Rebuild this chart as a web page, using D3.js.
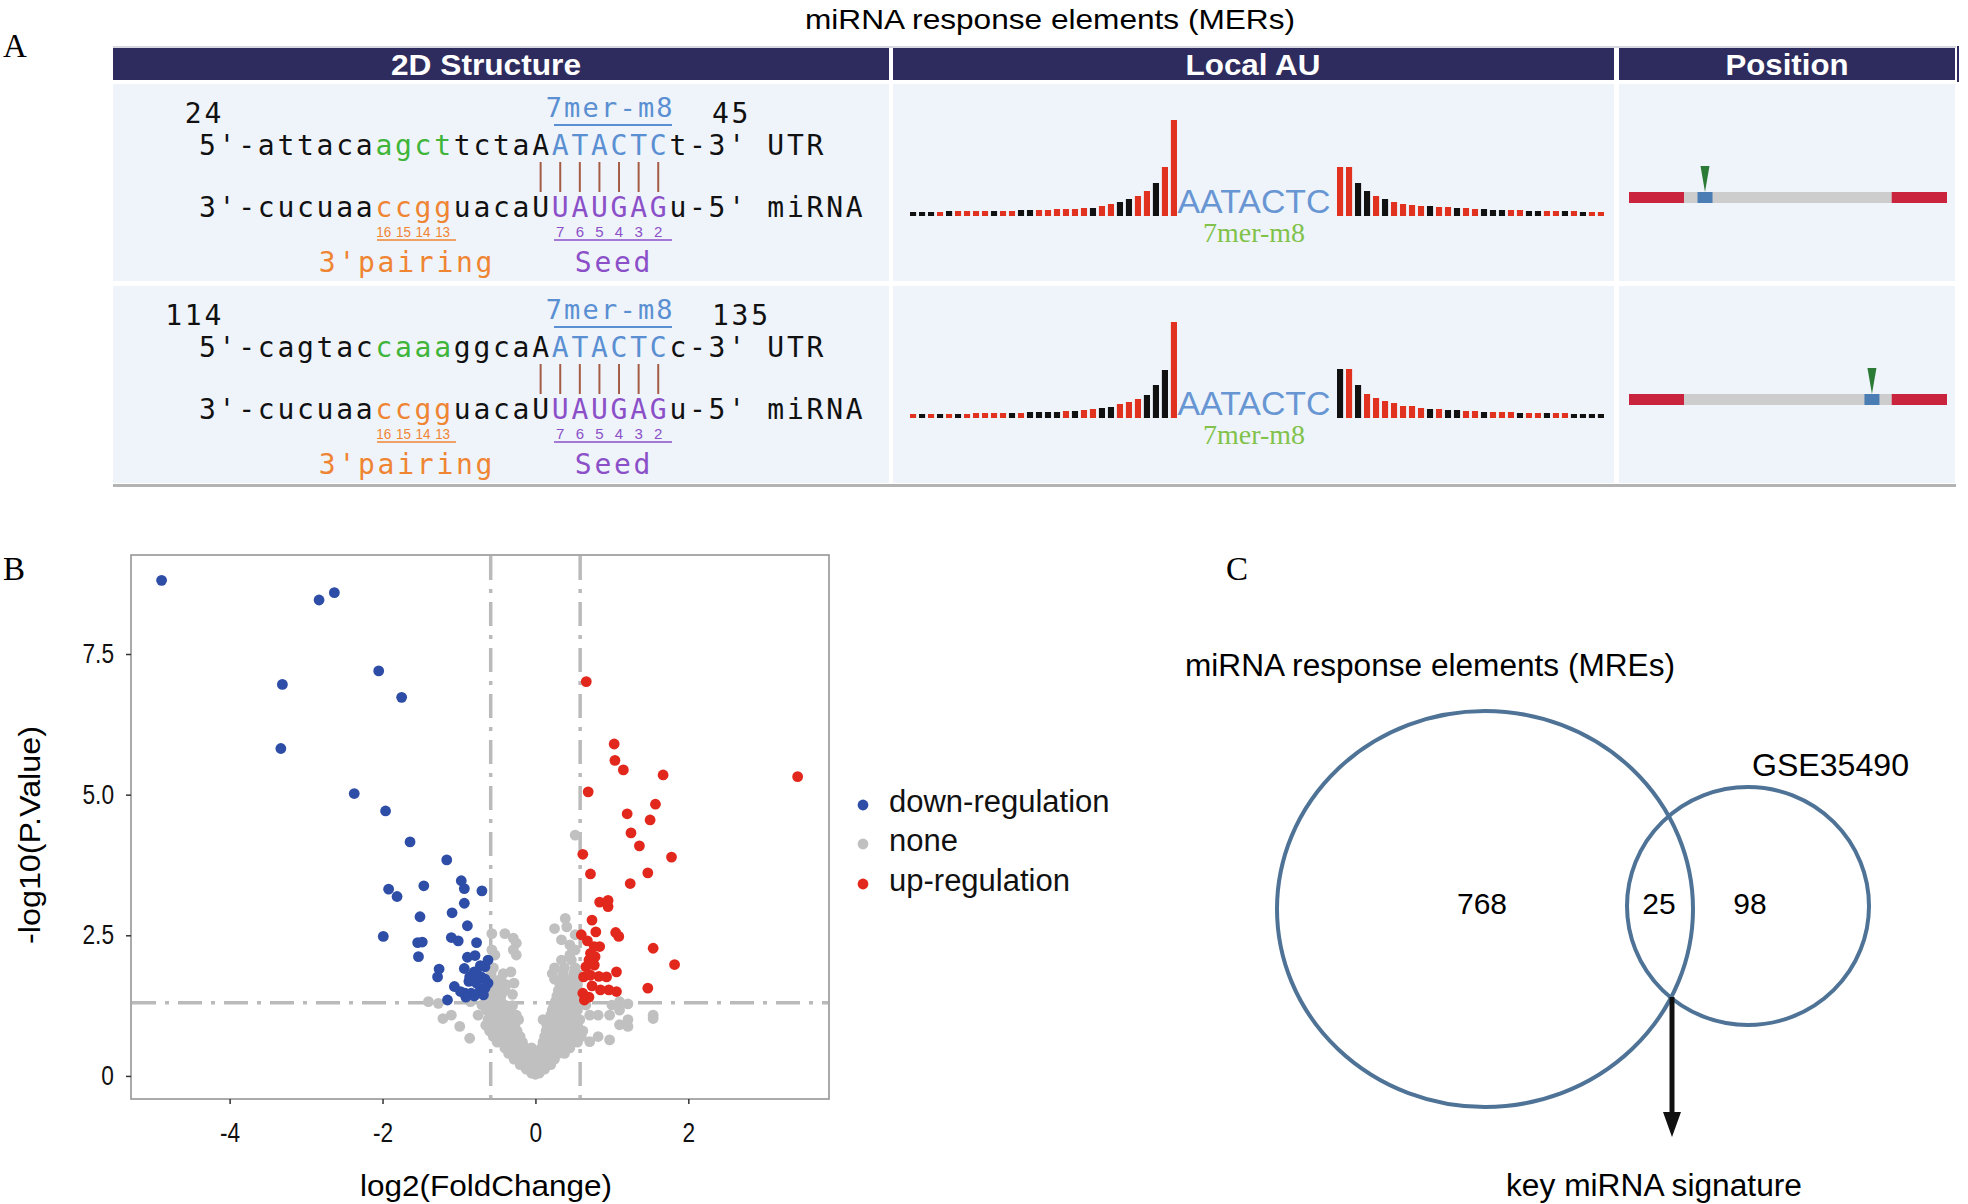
<!DOCTYPE html>
<html><head><meta charset="utf-8">
<script src="https://cdn.jsdelivr.net/npm/d3@7"></script>
<style>body{margin:0;background:#fff}</style>
</head><body>
<svg id="c" width="1968" height="1204"></svg>
<script>
// ---------------- DATA ----------------
const titleA = "miRNA response elements (MERs)";
const headerLabels = ["2D Structure", "Local AU", "Position"];
const siteStart = [24, 114];
const siteEnd = [45, 135];
const utrSeqs = ["5'-attacaagcttctaAATACTCt-3'", "5'-cagtaccaaaggcaAATACTCc-3'"];
const utrCode = "kkkkkkkkkggggkkkkkbbbbbbkkkk";
const mirSeq = "3'-cucuaaccgguacaUUAUGAGu-5'";
const mirCode = "kkkkkkkkkookkkkkkkppppppkkkk";
const siteType = "7mer-m8";
const motif = "AATACTC";
const pairIdx = [17, 18, 19, 20, 21, 22, 23];
const pairNums = ["16", "15", "14", "13"];
const seedNums = ["7", "6", "5", "4", "3", "2"];

const auLeft = [
  [.04,.04,.04,.04,.05,.05,.05,.05,.05,.05,.05,.05,.06,.06,.06,.06,.07,.07,.07,.08,.08,.10,.12,.14,.17,.20,.25,.33,.49,.96],
  [.04,.04,.04,.04,.04,.04,.04,.05,.05,.05,.05,.05,.05,.06,.06,.06,.06,.07,.07,.08,.09,.10,.11,.14,.16,.19,.23,.33,.48,.96]
];
const auLeftCol = ["kkkrkrrrrkrrkkrrrrrrkrrkkrrkrr", "rkrkrkrrrrrkrkkkkrkrrkkrrrkkkr"];
const auRight = [
  [.49,.49,.33,.25,.20,.17,.14,.12,.11,.10,.10,.09,.09,.08,.08,.07,.07,.06,.06,.06,.06,.05,.05,.05,.05,.05,.05,.04,.04,.04],
  [.49,.49,.33,.24,.20,.17,.15,.12,.12,.10,.09,.09,.08,.08,.07,.07,.06,.06,.06,.06,.05,.05,.05,.05,.05,.05,.04,.04,.04,.04]
];
const auRightCol = ["rrkkrkrrrrkrrkrrkkkrrkkrrkrkrr", "krkrrrrrrrkrkkrrkrrrkrrkrrkkkk"];

const posSegments = [[0, 0.173, "utr5"], [0.173, 0.826, "mid"], [0.826, 1, "utr3"]];
const sitePos = [0.239, 0.764];

const downPts = [[-4.89,8.81],[-2.83,8.46],[-2.63,8.59],[-2.05,7.20],[-3.31,6.96],[-1.75,6.73],[-3.33,5.82],[-2.37,5.02],[-1.96,4.71],[-1.64,4.16],
[-1.16,3.84],[-1.92,3.32],[-1.81,3.19],[-1.46,3.38],[-0.97,3.47],[-0.93,3.33],[-0.70,3.29],[-0.93,3.07],[-1.09,2.90],[-1.51,2.83],[-0.89,2.67],[-1.99,2.48],[-1.10,2.46],[-1.01,2.40],[-1.54,2.37],[-1.48,2.38],[-0.77,2.37],[-1.53,2.12],[-0.89,2.11],[-0.79,2.14],[-0.62,2.06],[-0.66,1.94],[-1.26,1.90],[-1.28,1.76],[-0.93,1.91],[-0.72,1.96],[-0.80,1.85],[-0.86,1.76],[-0.71,1.76],[-0.87,1.68],[-0.77,1.65],[-0.62,1.65],[-1.06,1.59],[-0.92,1.47],[-0.84,1.47],[-0.73,1.50],[-0.66,1.56],[-1.15,1.35],[-0.91,1.40],[-0.80,1.42],[-0.68,1.44],[-0.98,1.50],[-0.76,1.80],[-0.66,1.72]];
const upPts = [[0.665,7.01],[1.03,5.90],[1.04,5.61],[1.15,5.44],[1.67,5.35],[3.43,5.32],[0.69,5.05],[1.57,4.83],[1.20,4.66],[1.50,4.55],[1.25,4.32],[1.36,4.09],[1.78,3.89],[0.62,3.94],[0.72,3.59],[1.47,3.61],[1.24,3.42],[0.84,3.09],[0.95,3.12],[0.95,3.01],[0.74,2.77],[0.79,2.56],[0.60,2.51],[1.05,2.55],[1.09,2.48],[1.54,2.27],[1.82,1.98],[0.77,2.30],[0.84,2.30],[0.72,2.18],[0.78,2.12],[0.70,2.06],[0.77,1.97],[0.66,1.94],[1.06,1.85],[0.83,1.77],[0.93,1.76],[0.72,1.79],[0.63,1.76],[0.85,1.53],[0.96,1.53],[1.06,1.50],[1.47,1.56],[0.62,1.47],[0.64,1.35],[0.74,1.60],[0.68,2.40],[0.70,1.40]];
const nonePts = [
[-0.05,0.05],[0.0,0.03],[0.05,0.05],
[-0.12,0.12],[-0.06,0.12],[0.0,0.1],[0.06,0.12],[0.12,0.12],
[-0.2,0.2],[-0.13,0.2],[-0.07,0.2],[0.0,0.2],[0.07,0.2],[0.14,0.2],[0.2,0.2],
[-0.28,0.3],[-0.2,0.3],[-0.12,0.3],[-0.05,0.3],[0.03,0.3],[0.1,0.3],[0.18,0.3],[0.25,0.3],
[-0.35,0.4],[-0.27,0.4],[-0.19,0.4],[-0.1,0.4],[-0.02,0.4],[0.05,0.4],[0.13,0.4],[0.22,0.4],[0.3,0.4],[0.38,0.4],
[-0.4,0.5],[-0.3,0.5],[-0.22,0.5],[-0.13,0.5],[-0.05,0.5],[0.08,0.5],[0.17,0.5],[0.26,0.5],[0.35,0.5],[0.45,0.5],
[-0.5,0.6],[-0.42,0.6],[-0.33,0.6],[-0.25,0.6],[-0.17,0.6],[0.1,0.6],[0.18,0.6],[0.27,0.6],[0.36,0.6],[0.45,0.6],[0.55,0.6],[0.71,0.61],
[-0.55,0.7],[-0.45,0.7],[-0.36,0.7],[-0.28,0.7],[-0.2,0.7],[0.12,0.7],[0.2,0.7],[0.3,0.7],[0.4,0.7],[0.5,0.7],[0.6,0.7],[0.82,0.7],[0.97,0.64],[-0.86,0.67],
[-0.6,0.8],[-0.5,0.8],[-0.4,0.8],[-0.32,0.8],[-0.24,0.8],[0.14,0.8],[0.22,0.8],[0.32,0.8],[0.42,0.8],[0.52,0.8],[0.62,0.8],
[-0.99,0.88],[-0.65,0.9],[-0.55,0.9],[-0.45,0.9],[-0.35,0.9],[-0.27,0.9],[0.15,0.9],[0.25,0.9],[0.35,0.9],[0.45,0.9],[0.55,0.9],[1.1,0.91],[1.21,0.88],
[-0.62,1.0],[-0.52,1.0],[-0.42,1.0],[-0.32,1.0],[-0.22,1.0],[0.1,1.0],[0.17,1.0],[0.27,1.0],[0.38,1.0],[0.48,1.0],[0.58,1.0],[1.21,1.0],[-1.21,1.02],
[-1.10,1.08],[-0.75,1.08],[-0.57,1.08],[-0.47,1.08],[-0.37,1.08],[-0.25,1.08],[0.2,1.08],[0.3,1.08],[0.42,1.08],[0.52,1.08],[0.71,1.08],[0.82,1.08],[0.97,1.08],[1.54,1.08],
[-0.64,1.17],[-0.55,1.17],[-0.45,1.17],[-0.36,1.17],[0.22,1.17],[0.33,1.17],[0.45,1.17],[0.55,1.17],[1.1,1.17],[1.54,1.02],
[-0.7,1.26],[-0.6,1.26],[-0.5,1.26],[-0.4,1.26],[-0.3,1.25],[0.24,1.26],[0.35,1.26],[0.47,1.26],[0.56,1.26],[0.66,1.26],[1.0,1.26],[1.21,1.28],
[-1.40,1.32],[-1.27,1.29],[-0.85,1.32],[-0.55,1.32],[-0.45,1.32],[0.26,1.32],[0.38,1.32],[0.5,1.32],[0.62,1.32],[1.1,1.32],
[-0.66,1.42],[-0.55,1.42],[-0.45,1.42],[-0.3,1.45],[0.28,1.42],[0.4,1.42],[0.52,1.42],
[-0.6,1.52],[-0.5,1.52],[-0.4,1.52],[0.3,1.52],[0.42,1.52],[0.54,1.52],
[-0.58,1.62],[-0.48,1.62],[-0.38,1.62],[-0.28,1.65],[0.32,1.62],[0.44,1.62],[0.55,1.62],
[-0.56,1.72],[-0.45,1.72],[0.25,1.72],[0.35,1.72],[0.47,1.72],[0.56,1.72],
[-0.58,1.82],[-0.42,1.82],[-0.32,1.85],[0.22,1.82],[0.36,1.82],[0.5,1.82],
[-0.55,1.92],[0.25,1.92],[0.38,1.92],[0.52,1.92],
[0.34,2.06],[0.47,2.06],[-0.25,2.15],[-0.53,2.15],[0.45,2.15],[-0.57,2.24],[-0.29,2.24],[0.52,2.24],[0.45,2.33],[-0.25,2.36],[0.34,2.42],[-0.29,2.45],[-0.57,2.53],[-0.40,2.53],[0.52,2.51],[0.25,2.62],[0.41,2.65],[0.39,2.8],[0.52,4.28]
];
const legendLabels = ["down-regulation", "none", "up-regulation"];
const yTicks = [0, 2.5, 5.0, 7.5];
const xTicks = [-4, -2, 0, 2];
const fcCut = 0.585, pCut = 1.301;

const vennSets = ["miRNA response elements (MREs)", "GSE35490"];
const vennCounts = [768, 25, 98];
const vennNote = "key miRNA signature";

// ---------------- DRAW ----------------
const svg = d3.select("#c");
svg.append("rect").attr("width", 1968).attr("height", 1204).attr("fill", "#fff");
const serif = "Liberation Serif, Times New Roman, serif";
const sans = "Liberation Sans, Arial, sans-serif";
const mono = "DejaVu Sans Mono, monospace";

// ===== Panel A =====
const A = svg.append("g");
A.append("text").attr("x", 3).attr("y", 57).attr("font-family", serif).attr("font-size", 33).text("A");
A.append("text").attr("x", 1050).attr("y", 29).attr("text-anchor", "middle").attr("font-family", sans)
  .attr("font-size", 28).attr("textLength", 490).attr("lengthAdjust", "spacingAndGlyphs").text(titleA);

const cols = [[113, 889, 486], [893, 1614, 1253], [1619, 1955, 1787]];
const headW = [190, 135, 123];
A.append("line").attr("x1", 113).attr("x2", 1956).attr("y1", 47).attr("y2", 47).attr("stroke", "#c9cad6").attr("stroke-width", 1.5);
cols.forEach((c, i) => {
  A.append("rect").attr("x", c[0]).attr("y", 48).attr("width", c[1] - c[0]).attr("height", 32).attr("fill", "#2e2c5e");
  A.append("text").attr("x", c[2]).attr("y", 75).attr("text-anchor", "middle").attr("fill", "#fff")
    .attr("font-family", sans).attr("font-weight", "bold").attr("font-size", 30)
    .attr("textLength", headW[i]).attr("lengthAdjust", "spacingAndGlyphs").text(headerLabels[i]);
  [84, 286].forEach(y0 => A.append("rect").attr("x", c[0]).attr("y", y0).attr("width", c[1] - c[0]).attr("height", 197).attr("fill", "#eff4fb"));
});
A.append("rect").attr("x", 1957).attr("y", 46).attr("width", 2).attr("height", 36).attr("fill", "#2e2c5e");
A.append("rect").attr("x", 113).attr("y", 484).attr("width", 1843).attr("height", 3).attr("fill", "#b3b3b3");

const colors = { k: "#111", g: "#3fb53a", b: "#5a8fd2", o: "#ef8533", p: "#8b50c8" };
const cw = 19.6, x0 = 199;
const cellMid = i => x0 + i * cw + 8.43;

function seqText(g, y, str, code) {
  const t = g.append("text").attr("x", x0).attr("y", y).attr("font-family", mono).attr("font-size", 28)
    .attr("letter-spacing", cw - 16.86).style("white-space", "pre");
  const runs = [];
  for (let i = 0; i < str.length; i++) {
    const c = code[i] || "k";
    if (runs.length && runs[runs.length - 1].c === c) runs[runs.length - 1].s += str[i];
    else runs.push({ c, s: str[i] });
  }
  runs.forEach(r => t.append("tspan").attr("fill", colors[r.c]).text(r.s));
}

const mirCodeFull = "kkkkkkkkk" + "oooo" + "kkkkk" + "pppppp" + "kkkk";
const hS = d3.scaleLinear().domain([0, 1]).range([0, 100]);
const posX = d3.scaleLinear().domain([0, 1]).range([1629, 1947]);
const posCol = { utr5: "#c9233d", mid: "#cdcdcd", utr3: "#c9233d" };

[0, 1].forEach(r => {
  const oy = r * 202;
  const g = A.append("g").attr("transform", `translate(0,${oy})`);
  const s1 = String(siteStart[r]);
  g.append("text").attr("x", 224 - s1.length * cw).attr("y", 123).attr("font-family", mono).attr("font-size", 28)
    .attr("letter-spacing", cw - 16.86).attr("fill", "#111").text(s1);
  g.append("text").attr("x", 712).attr("y", 123).attr("font-family", mono).attr("font-size", 28)
    .attr("letter-spacing", cw - 16.86).attr("fill", "#111").text(String(siteEnd[r]));
  g.append("text").attr("x", (cellMid(18) + cellMid(23)) / 2 + 1).attr("y", 117).attr("text-anchor", "middle")
    .attr("font-family", mono).attr("font-size", 27).attr("letter-spacing", 2.2).attr("fill", colors.b).text(siteType);
  g.append("line").attr("x1", 554).attr("x2", 672).attr("y1", 125).attr("y2", 125).attr("stroke", colors.b).attr("stroke-width", 2);
  seqText(g, 155, utrSeqs[r] + " UTR", utrCode + "kkkk");
  pairIdx.forEach(i => g.append("line").attr("x1", cellMid(i)).attr("x2", cellMid(i)).attr("y1", 162).attr("y2", 192)
    .attr("stroke", "#a45c45").attr("stroke-width", 2));
  seqText(g, 217, mirSeq + " miRNA", mirCodeFull + "kkkkkk");
  pairNums.forEach((n, j) => g.append("text").attr("x", cellMid(9 + j)).attr("y", 237).attr("text-anchor", "middle")
    .attr("font-family", sans).attr("font-size", 15).attr("textLength", 15).attr("lengthAdjust", "spacingAndGlyphs").attr("fill", colors.o).text(n));
  seedNums.forEach((n, j) => g.append("text").attr("x", cellMid(18 + j)).attr("y", 237).attr("text-anchor", "middle")
    .attr("font-family", sans).attr("font-size", 15).attr("fill", colors.p).text(n));
  g.append("line").attr("x1", 377).attr("x2", 456).attr("y1", 240).attr("y2", 240).attr("stroke", colors.o).attr("stroke-width", 1.5);
  g.append("line").attr("x1", 554).attr("x2", 672).attr("y1", 240).attr("y2", 240).attr("stroke", colors.p).attr("stroke-width", 1.5);
  g.append("text").attr("x", 407).attr("y", 272).attr("text-anchor", "middle").attr("font-family", mono).attr("font-size", 28)
    .attr("letter-spacing", cw - 16.86).attr("fill", colors.o).text("3'pairing");
  g.append("text").attr("x", 614).attr("y", 272).attr("text-anchor", "middle").attr("font-family", mono).attr("font-size", 28)
    .attr("letter-spacing", cw - 16.86).attr("fill", colors.p).text("Seed");

  // Local AU bars
  const base = 216;
  const bandL = d3.scaleBand().domain(d3.range(auLeft[r].length)).range([910, 1177]).paddingInner(0.32);
  const bandR = d3.scaleBand().domain(d3.range(auRight[r].length)).range([1337, 1604]).paddingInner(0.32);
  g.selectAll(null).data(auLeft[r]).enter().append("rect")
    .attr("x", (d, i) => bandL(i)).attr("width", bandL.bandwidth())
    .attr("y", d => base - hS(d)).attr("height", d => hS(d))
    .attr("fill", (d, i) => auLeftCol[r][i] === "r" ? "#e1321f" : "#111");
  g.selectAll(null).data(auRight[r]).enter().append("rect")
    .attr("x", (d, i) => bandR(i)).attr("width", bandR.bandwidth())
    .attr("y", d => base - hS(d)).attr("height", d => hS(d))
    .attr("fill", (d, i) => auRightCol[r][i] === "r" ? "#e1321f" : "#111");
  g.append("text").attr("x", 1254).attr("y", 213).attr("text-anchor", "middle").attr("font-family", sans)
    .attr("font-size", 34).attr("textLength", 153).attr("lengthAdjust", "spacingAndGlyphs").attr("fill", "#6896d3").text(motif);
  g.append("text").attr("x", 1254).attr("y", 242).attr("text-anchor", "middle").attr("font-family", serif)
    .attr("font-size", 28).attr("fill", "#80c24a").text(siteType);

  // Position
  posSegments.forEach(s => g.append("rect").attr("x", posX(s[0])).attr("y", 192).attr("width", posX(s[1]) - posX(s[0]))
    .attr("height", 11).attr("fill", posCol[s[2]]));
  const sx = posX(sitePos[r]);
  g.append("rect").attr("x", sx - 7.5).attr("y", 192).attr("width", 15).attr("height", 11).attr("fill", "#4a7db3");
  g.append("path").attr("d", `M${sx - 4.5},166 L${sx + 4.5},166 L${sx},192 Z`).attr("fill", "#2b7a36");
});

// ===== Panel B =====
const B = svg.append("g");
B.append("text").attr("x", 3).attr("y", 580).attr("font-family", serif).attr("font-size", 33).text("B");
const xS = d3.scaleLinear().domain([-5.29, 3.84]).range([131, 829]);
const yS = d3.scaleLinear().domain([-0.41, 9.26]).range([1099, 555]);
B.append("rect").attr("x", 131).attr("y", 555).attr("width", 698).attr("height", 544).attr("fill", "#fff").attr("stroke", "#8f8f8f").attr("stroke-width", 1.5);
const dash = "24,9,4,9";
[-fcCut, fcCut].forEach(v => B.append("line").attr("x1", xS(v)).attr("x2", xS(v)).attr("y1", 556).attr("y2", 1098)
  .attr("stroke", "#bababa").attr("stroke-width", 3.5).attr("stroke-dasharray", dash));
B.append("line").attr("x1", 132).attr("x2", 828).attr("y1", yS(pCut)).attr("y2", yS(pCut))
  .attr("stroke", "#bababa").attr("stroke-width", 3.5).attr("stroke-dasharray", dash);
const ptGroups = [[nonePts, "#c0c0c0"], [downPts, "#2e4da6"], [upPts, "#e2281d"]];
ptGroups.forEach(([pts, col]) => B.selectAll(null).data(pts).enter().append("circle")
  .attr("cx", d => xS(d[0])).attr("cy", d => yS(d[1])).attr("r", 5.4).attr("fill", col));
const yAx = B.append("g").attr("transform", "translate(131,0)")
  .call(d3.axisLeft(yS).tickValues(yTicks).tickSize(5).tickPadding(12).tickFormat(d => d === 0 ? "0" : d3.format(".1f")(d)));
const xAx = B.append("g").attr("transform", "translate(0,1099)")
  .call(d3.axisBottom(xS).tickValues(xTicks).tickSize(5).tickPadding(19).tickFormat(d3.format("d")));
[yAx, xAx].forEach(a => {
  a.select(".domain").remove();
  a.selectAll(".tick line").attr("stroke", "#333").attr("stroke-width", 1.5);
  a.selectAll(".tick text").attr("font-family", sans).attr("font-size", 27).attr("fill", "#111");
});
xAx.selectAll(".tick text").text(d => d < 0 ? "-" + Math.abs(d) : d);
[yAx, xAx].forEach(a => a.selectAll(".tick text").each(function () {
  const L = this.getComputedTextLength();
  d3.select(this).attr("textLength", L * 0.84).attr("lengthAdjust", "spacingAndGlyphs");
}));
B.append("text").attr("x", 486).attr("y", 1196).attr("text-anchor", "middle").attr("font-family", sans).attr("font-size", 30)
  .attr("textLength", 252).attr("lengthAdjust", "spacingAndGlyphs").text("log2(FoldChange)");
B.append("text").attr("transform", "translate(40,835) rotate(-90)").attr("text-anchor", "middle").attr("font-family", sans)
  .attr("font-size", 30).attr("textLength", 218).attr("lengthAdjust", "spacingAndGlyphs").text("-log10(P.Value)");
const legCol = ["#2e4da6", "#c0c0c0", "#e2281d"];
const legDotY = [805, 844, 884], legTxtY = [812, 851, 891];
legendLabels.forEach((l, i) => {
  B.append("circle").attr("cx", 863).attr("cy", legDotY[i]).attr("r", 5.4).attr("fill", legCol[i]);
  B.append("text").attr("x", 889).attr("y", legTxtY[i]).attr("font-family", sans).attr("font-size", 31).attr("fill", "#111").text(l);
});

// ===== Panel C =====
const C = svg.append("g");
C.append("text").attr("x", 1226).attr("y", 580).attr("font-family", serif).attr("font-size", 33).text("C");
const vStroke = "#4e7396";
C.append("ellipse").attr("cx", 1485).attr("cy", 909).attr("rx", 208).attr("ry", 198).attr("fill", "none").attr("stroke", vStroke).attr("stroke-width", 4);
C.append("ellipse").attr("cx", 1748).attr("cy", 906).attr("rx", 121).attr("ry", 119).attr("fill", "none").attr("stroke", vStroke).attr("stroke-width", 4);
C.append("text").attr("x", 1185).attr("y", 676).attr("font-family", sans).attr("font-size", 31).attr("textLength", 490).attr("lengthAdjust", "spacingAndGlyphs").text(vennSets[0]);
C.append("text").attr("x", 1752).attr("y", 776).attr("font-family", sans).attr("font-size", 31).attr("textLength", 157).attr("lengthAdjust", "spacingAndGlyphs").text(vennSets[1]);
const cntX = [1482, 1659, 1750];
vennCounts.forEach((v, i) => C.append("text").attr("x", cntX[i]).attr("y", 914).attr("text-anchor", "middle")
  .attr("font-family", sans).attr("font-size", 30).text(v));
C.append("line").attr("x1", 1672).attr("x2", 1672).attr("y1", 997).attr("y2", 1116).attr("stroke", "#111").attr("stroke-width", 5);
C.append("path").attr("d", "M1663,1112 L1681,1112 L1672,1137 Z").attr("fill", "#111");
C.append("text").attr("x", 1506).attr("y", 1196).attr("font-family", sans).attr("font-size", 31).attr("textLength", 296).attr("lengthAdjust", "spacingAndGlyphs").text(vennNote);
</script>
</body></html>
